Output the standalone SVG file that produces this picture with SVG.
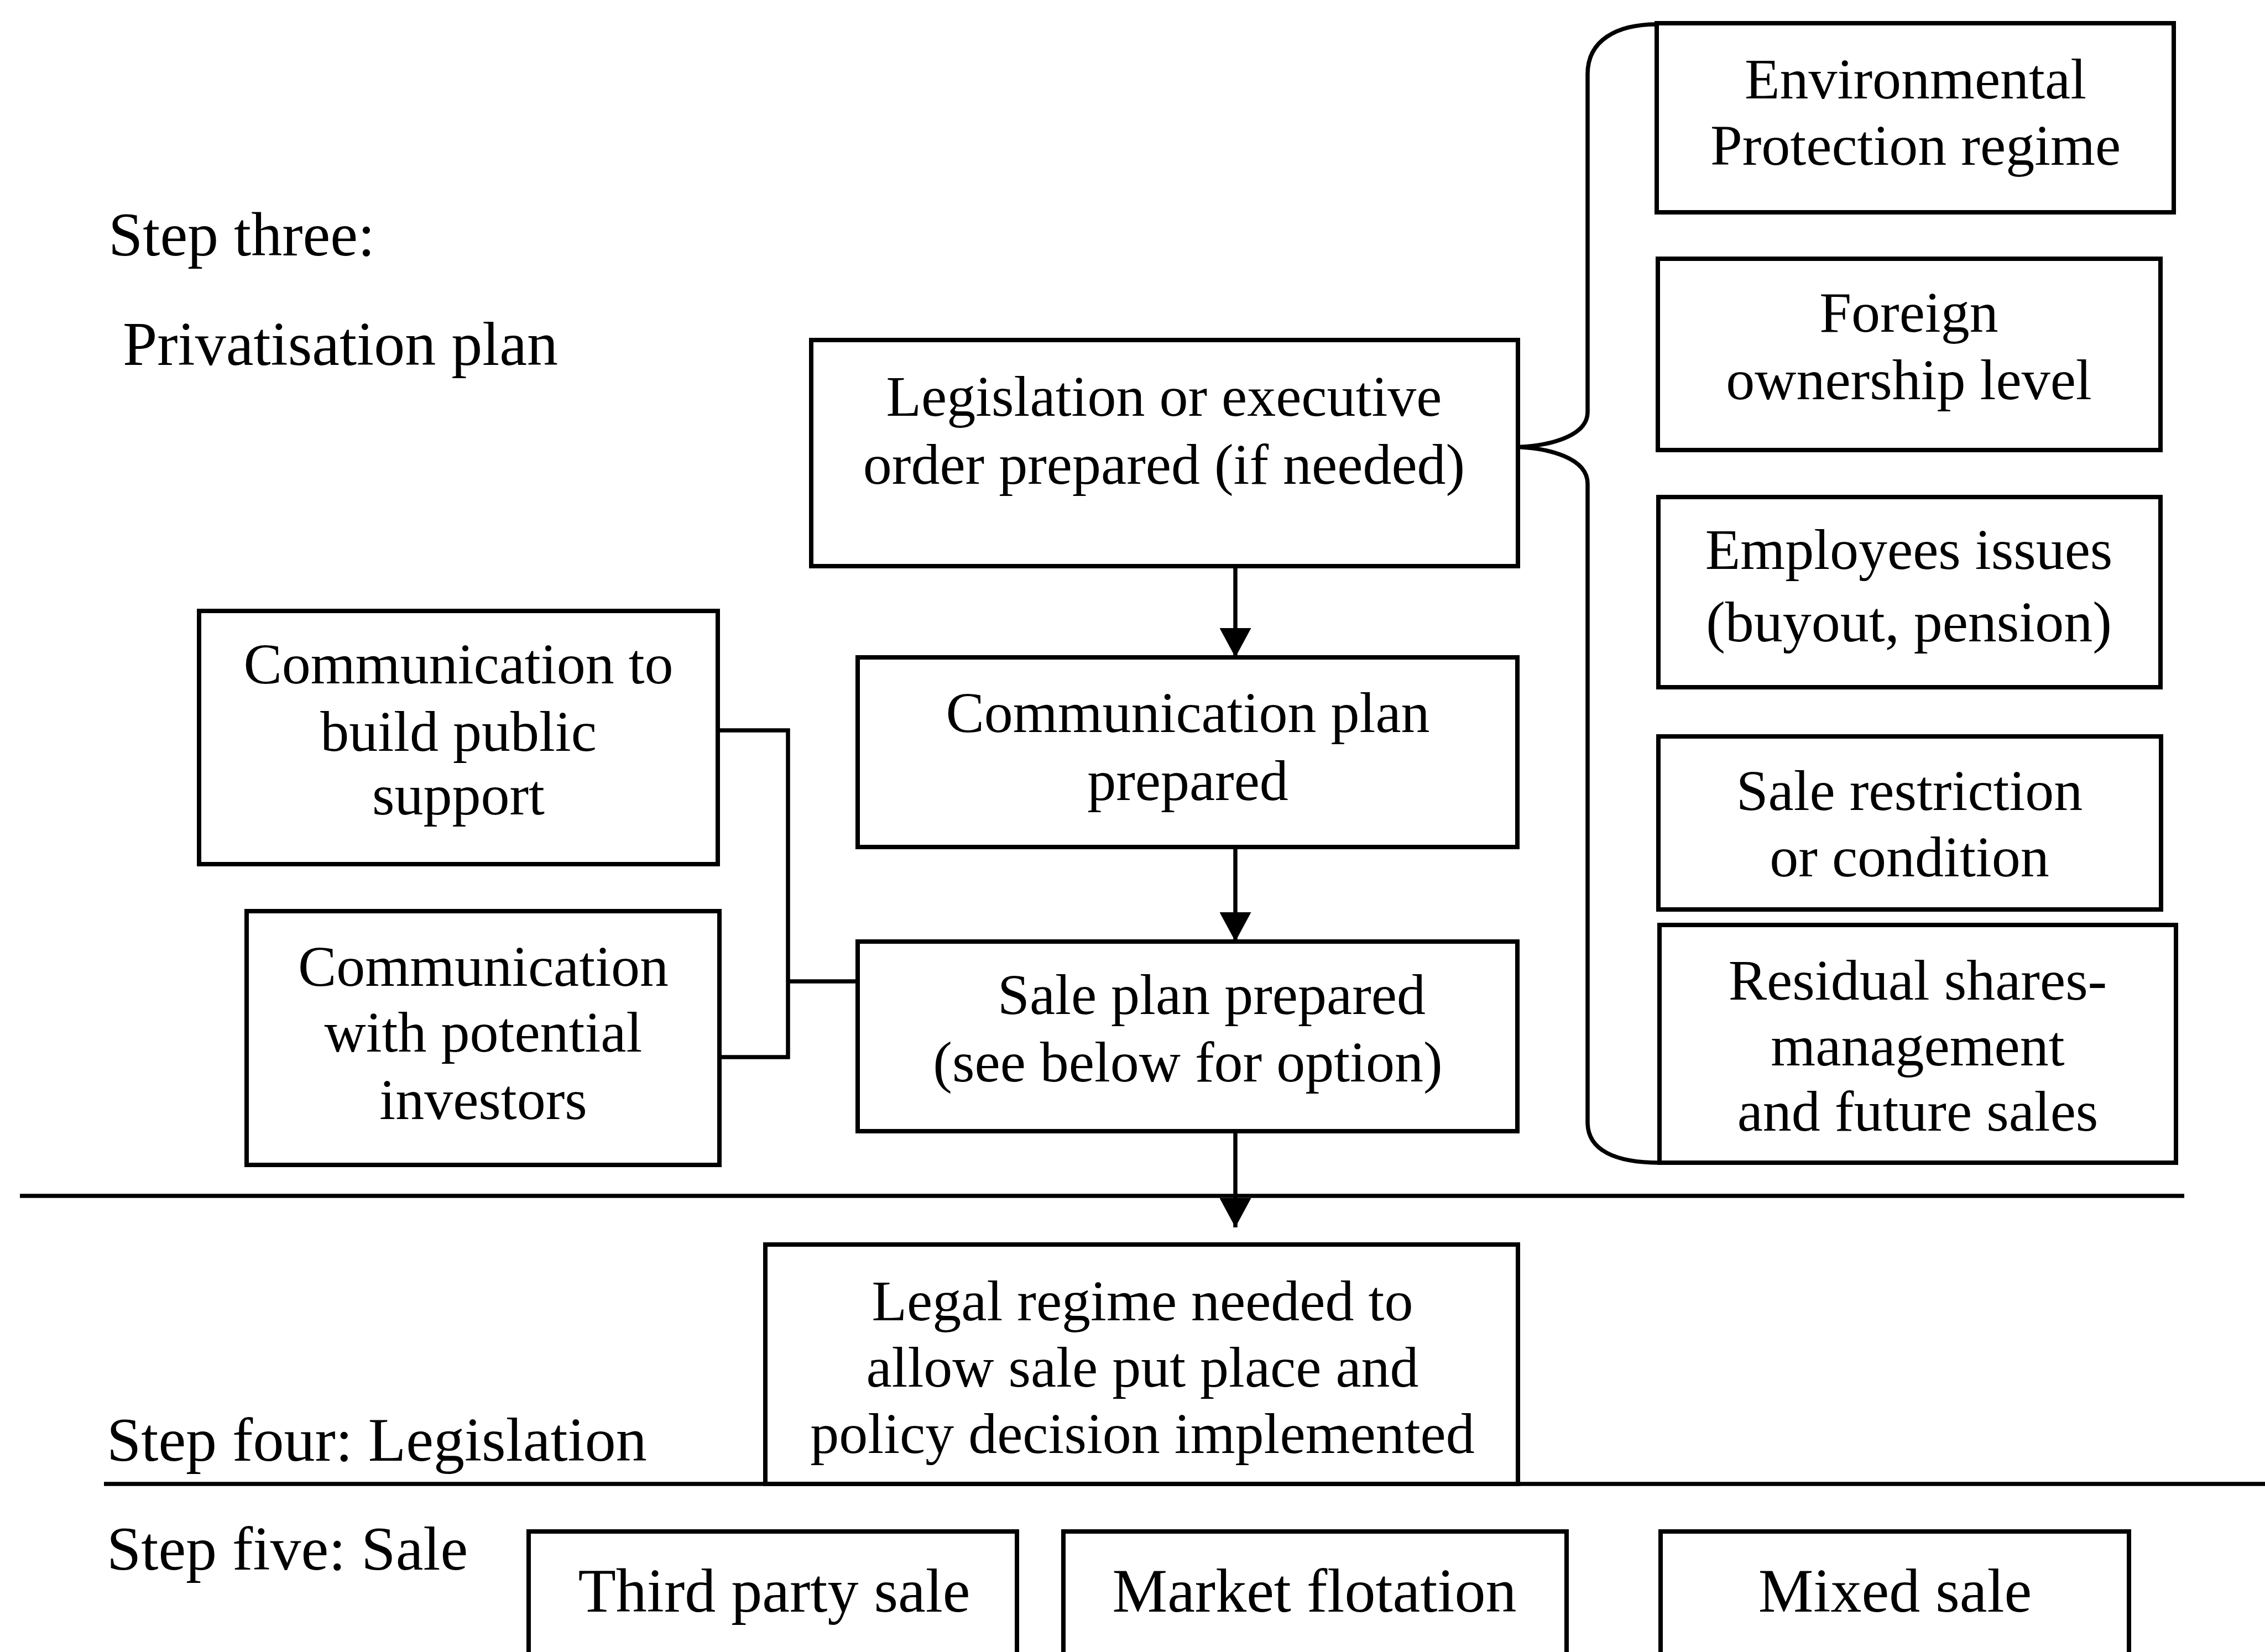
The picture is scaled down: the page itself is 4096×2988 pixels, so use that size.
<svg xmlns="http://www.w3.org/2000/svg" width="4096" height="2988" viewBox="0 0 4096 2988">
<style>
  .box { fill: #ffffff; stroke: #000000; stroke-width: 8; }
  .line { fill: none; stroke: #000000; stroke-width: 7.5; }
  .t { font-family: "Liberation Serif", "Times New Roman", serif; font-size: 104px; fill: #000000; text-anchor: middle; }
  .tb { font-family: "Liberation Serif", "Times New Roman", serif; font-size: 112px; fill: #000000; text-anchor: middle; }
  .lbl { font-family: "Liberation Serif", "Times New Roman", serif; font-size: 112px; fill: #000000; }
</style>
<defs>
  <marker id="arrow" markerUnits="userSpaceOnUse" viewBox="0 0 53 57" markerWidth="53" markerHeight="57" refX="53" refY="28.5" orient="auto">
    <path d="M0,0 L53,28.5 L0,57 Z" fill="#000000"/>
  </marker>
</defs>
<rect x="0" y="0" width="4096" height="2988" fill="#ffffff"/>

<g id="labels">
  <text class="lbl" x="196" y="462">Step three:</text>
  <text class="lbl" x="222" y="660">Privatisation plan</text>
  <text class="lbl" x="193" y="2642">Step four: Legislation</text>
  <text class="lbl" x="193" y="2839">Step five: Sale</text>
</g>

<g id="connectors">
  <line class="line" x1="36" y1="2163" x2="3950" y2="2163"/>
  <line class="line" x1="188" y1="2684" x2="4096" y2="2684"/>
  <line class="line" x1="2234" y1="1024" x2="2234" y2="1189" marker-end="url(#arrow)"/>
  <line class="line" x1="2234" y1="1532" x2="2234" y2="1703" marker-end="url(#arrow)"/>
  <line class="line" x1="2234" y1="2046" x2="2234" y2="2220" marker-end="url(#arrow)"/>
  <path class="line" d="M1298,1321 L1425,1321 L1425,1912 L1301,1912"/>
  <line class="line" x1="1425" y1="1775" x2="1551" y2="1775"/>
  <path class="line" d="M2996,44 C2925,44 2871,72 2871,134 L2871,745 C2871,790 2800,806 2746,808.5 C2800,811 2871,828 2871,875 L2871,2030 C2871,2080 2920,2103 3002,2103"/>
</g>

<g id="node-legislation">
  <rect class="box" x="1467" y="615" width="1278" height="409"/>
  <text class="t" x="2105" y="752">Legislation or executive</text>
  <text class="t" x="2105" y="875">order prepared (if needed)</text>
</g>

<g id="node-comm-plan">
  <rect class="box" x="1551" y="1189" width="1193" height="343"/>
  <text class="t" x="2148" y="1324">Communication plan</text>
  <text class="t" x="2148" y="1447">prepared</text>
</g>

<g id="node-sale-plan">
  <rect class="box" x="1551" y="1703" width="1193" height="343"/>
  <text class="t" x="2191" y="1834">Sale plan prepared</text>
  <text class="t" x="2148" y="1956">(see below for option)</text>
</g>

<g id="node-comm-public">
  <rect class="box" x="360" y="1105" width="938" height="458"/>
  <text class="t" x="829" y="1236">Communication to</text>
  <text class="t" x="829" y="1358">build public</text>
  <text class="t" x="829" y="1473">support</text>
</g>

<g id="node-comm-investors">
  <rect class="box" x="446" y="1648" width="855" height="459"/>
  <text class="t" x="874" y="1783">Communication</text>
  <text class="t" x="874" y="1902">with potential</text>
  <text class="t" x="874" y="2024">investors</text>
</g>

<g id="node-environmental">
  <rect class="box" x="2996" y="42" width="935" height="342"/>
  <text class="t" x="3464" y="178">Environmental</text>
  <text class="t" x="3464" y="298">Protection regime</text>
</g>

<g id="node-foreign">
  <rect class="box" x="2998" y="468" width="909" height="346"/>
  <text class="t" x="3452" y="600">Foreign</text>
  <text class="t" x="3452" y="722">ownership level</text>
</g>

<g id="node-employees">
  <rect class="box" x="2999" y="899" width="908" height="344"/>
  <text class="t" x="3452" y="1029">Employees issues</text>
  <text class="t" x="3452" y="1160">(buyout, pension)</text>
</g>

<g id="node-sale-restriction">
  <rect class="box" x="2999" y="1332" width="909" height="313"/>
  <text class="t" x="3453" y="1465">Sale restriction</text>
  <text class="t" x="3453" y="1585">or condition</text>
</g>

<g id="node-residual">
  <rect class="box" x="3001" y="1673" width="934" height="430"/>
  <text class="t" x="3468" y="1808">Residual shares-</text>
  <text class="t" x="3468" y="1927">management</text>
  <text class="t" x="3468" y="2045">and future sales</text>
</g>

<g id="node-legal-regime">
  <rect class="box" x="1384" y="2251" width="1361" height="433"/>
  <text class="t" x="2066" y="2388">Legal regime needed to</text>
  <text class="t" x="2066" y="2508">allow sale put place and</text>
  <text class="t" x="2066" y="2628">policy decision implemented</text>
</g>

<g id="node-third-party">
  <rect class="box" x="956" y="2770" width="883" height="260"/>
  <text class="tb" x="1400" y="2915">Third party sale</text>
</g>

<g id="node-market-flotation">
  <rect class="box" x="1923" y="2770" width="910" height="260"/>
  <text class="tb" x="2377" y="2915">Market flotation</text>
</g>

<g id="node-mixed-sale">
  <rect class="box" x="3003" y="2770" width="847" height="260"/>
  <text class="tb" x="3427" y="2915">Mixed sale</text>
</g>
</svg>
